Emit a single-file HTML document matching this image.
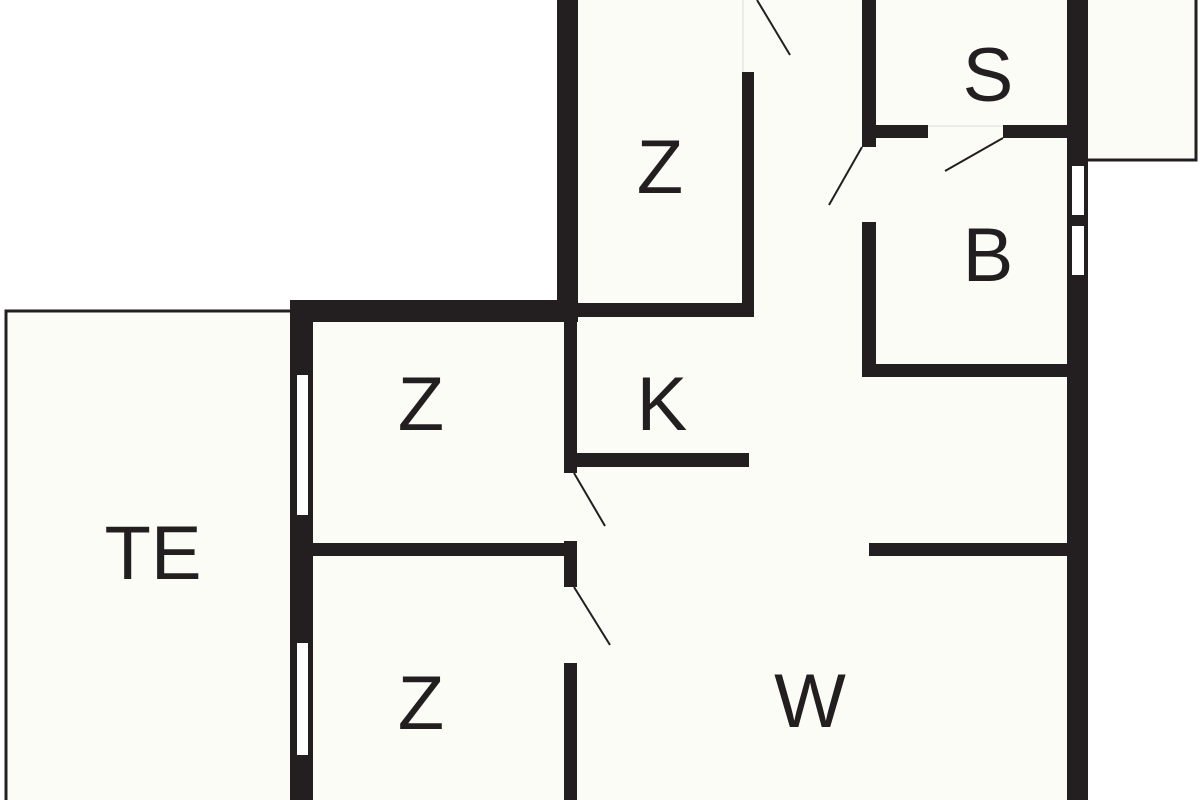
<!DOCTYPE html>
<html><head><style>html,body{margin:0;padding:0;background:#fff;}svg{display:block}</style></head>
<body>
<svg width="1200" height="800" viewBox="0 0 1200 800" xmlns="http://www.w3.org/2000/svg">
<rect width="1200" height="800" fill="#fff"/>
<g fill="#fcfcf7">
<polygon points="557,0 1088,0 1088,800 290,800 290,300 557,300"/>
<rect x="5" y="310" width="287" height="490"/>
<rect x="1088" y="0" width="110" height="162"/>
</g>
<g fill="none" stroke="#231f20" stroke-width="3">
<polyline points="6,800 6,311 292,311"/>
<polyline points="1088,160 1196,160 1196,0"/>
</g>
<g fill="#231f20">
<rect x="557" y="0" width="21" height="322"/>
<rect x="290" y="300" width="288" height="22"/>
<rect x="290" y="300" width="23" height="500"/>
<rect x="564" y="320" width="13" height="153"/>
<rect x="564" y="541" width="13" height="46"/>
<rect x="564" y="663" width="13" height="137"/>
<rect x="577" y="453" width="172" height="14"/>
<rect x="313" y="543" width="252" height="13"/>
<rect x="742" y="72" width="12" height="245"/>
<rect x="575" y="303" width="179" height="14"/>
<rect x="862" y="0" width="14" height="147"/>
<rect x="862" y="222" width="14" height="155"/>
<rect x="862" y="364" width="205" height="13"/>
<rect x="876" y="125" width="52" height="13"/>
<rect x="1003" y="125" width="64" height="13"/>
<rect x="1067" y="0" width="21" height="800"/>
<rect x="869" y="543" width="198" height="13"/>
</g>
<g fill="#fff">
<rect x="297" y="375" width="11" height="140"/>
<rect x="297" y="643" width="11" height="112"/>
<rect x="1072" y="166" width="12" height="49"/>
<rect x="1072" y="226" width="12" height="49"/>
</g>
<g stroke="#231f20" stroke-width="2">
<line x1="574" y1="473" x2="605" y2="526"/>
<line x1="574" y1="587" x2="610" y2="645"/>
<line x1="757" y1="0" x2="790" y2="55"/>
<line x1="862" y1="147" x2="829" y2="205"/>
<line x1="1003" y1="138" x2="945" y2="171"/>
</g>
<g stroke="#ddd" stroke-width="1">
<line x1="743" y1="0" x2="743" y2="72"/>
<line x1="928" y1="126" x2="1003" y2="126"/>
</g>
<g font-family="Liberation Sans, sans-serif" font-size="76" fill="#231f20" text-anchor="middle">
<text x="660" y="193">Z</text>
<text x="988" y="101">S</text>
<text x="988" y="281">B</text>
<text x="662" y="430">K</text>
<text x="421" y="430">Z</text>
<text x="153" y="579">TE</text>
<text x="421" y="729">Z</text>
<text x="810" y="727">W</text>
</g>
</svg>
</body></html>
